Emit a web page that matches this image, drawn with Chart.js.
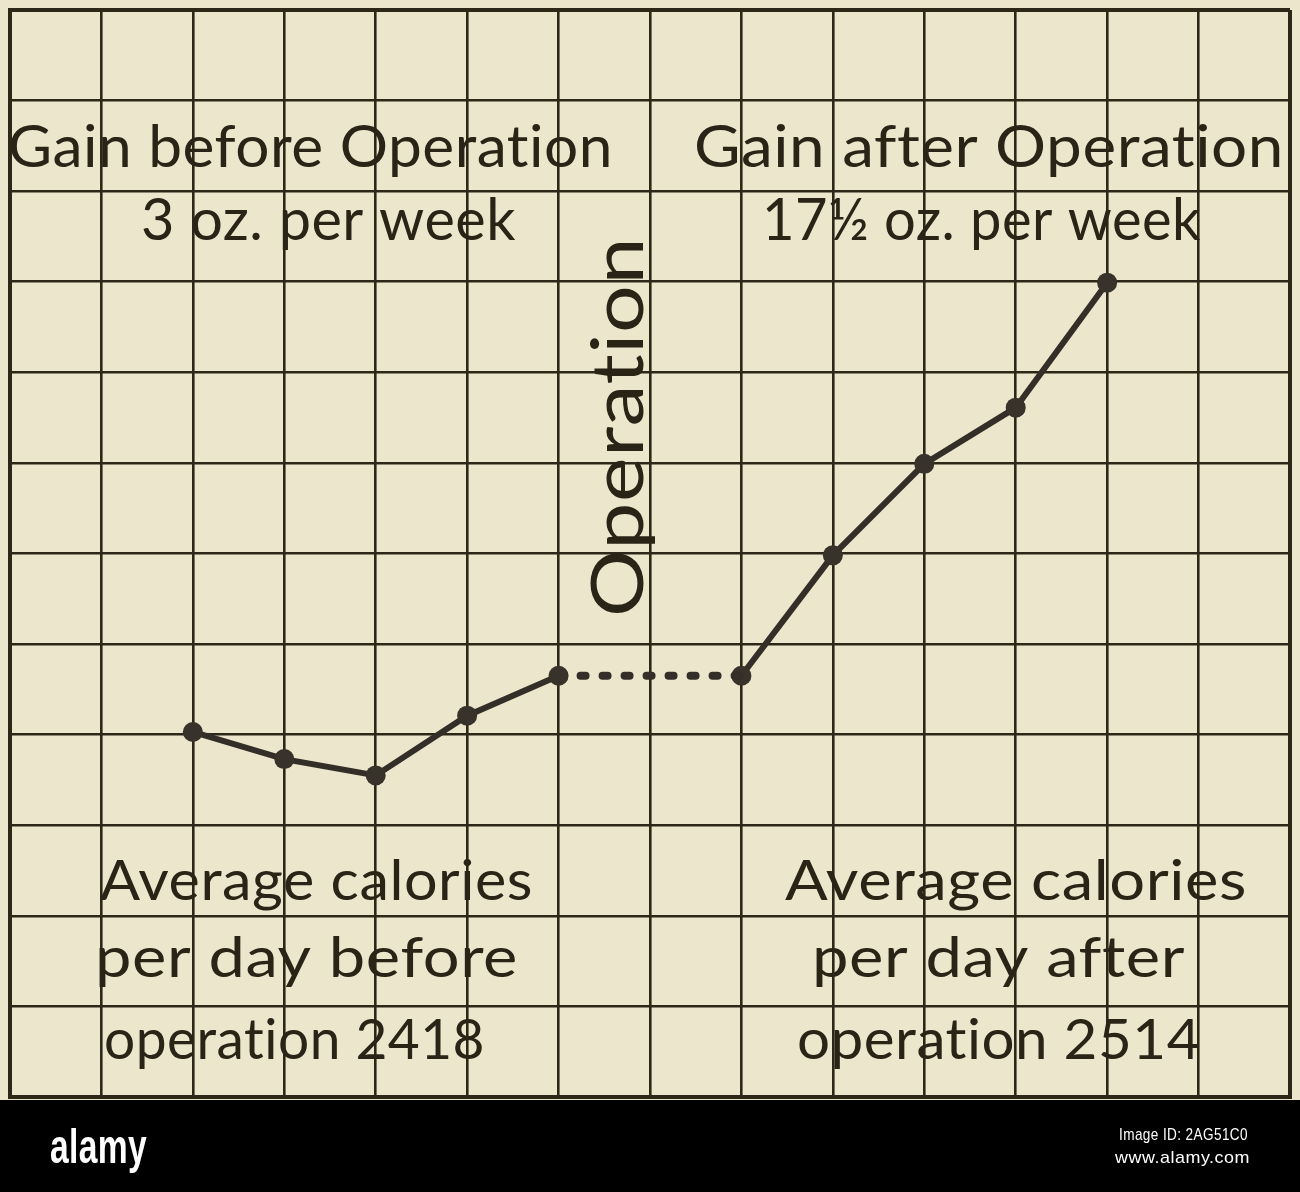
<!DOCTYPE html>
<html>
<head>
<meta charset="utf-8">
<script src="https://cdn.jsdelivr.net/npm/chart.js@4/dist/chart.umd.min.js"></script>
<style>
  html, body { margin: 0; padding: 0; background: #ece6cc; }
  #wrap { width: 1300px; height: 1192px; position: relative; }
  canvas { display: block; }
</style>
</head>
<body>
<div id="wrap"><canvas id="c" width="1300" height="1192"></canvas></div>
<script>
// ---- data (x = week line, y = weight in grid squares) ----
const weeksBefore = [2, 3, 4, 5, 6];
const gainBefore  = [4.03, 3.73, 3.55, 4.21, 4.65];
const weeksAfter  = [8, 9, 10, 11, 12];
const gainAfter   = [4.65, 5.98, 6.99, 7.61, 8.99];
const xRange = [0, 14];
const yRange = [0, 12];

// ---- texts ----
const titleBefore = ['Gain before Operation', '3 oz. per week'];
const titleAfter  = ['Gain after Operation', '17½ oz. per week'];
const operationLabel = 'Operation';
const caloriesBefore = ['Average calories', 'per day before', 'operation 2418'];
const caloriesAfter  = ['Average calories', 'per day after', 'operation 2514'];
const bannerTexts = ['alamy', 'Image ID: 2AG51C0', 'www.alamy.com'];

// ---- layout / styles (not data) ----
const PAPER = '#ece6cc';
const INK = '#2a2417';
const GRID = '#2d2718';
const LINE = '#332e27';
const FONT = 'Lato, "Open Sans", sans-serif';

const annotations = [
  {t: titleBefore[0], x0: 8,   x1: 613,  by: 167,  s: 58},
  {t: titleBefore[1], x0: 141, x1: 516,  by: 240,  s: 58},
  {t: titleAfter[0],  x0: 694, x1: 1284, by: 167,  s: 58},
  {t: titleAfter[1],  x0: 762, x1: 1201, by: 240,  s: 58},
  {t: caloriesBefore[0], x0: 100, x1: 533, by: 900,  s: 56},
  {t: caloriesBefore[1], x0: 95,  x1: 518, by: 977,  s: 56},
  {t: caloriesBefore[2], x0: 104, x1: 485, by: 1059, s: 56},
  {t: caloriesAfter[0],  x0: 785, x1: 1247, by: 900,  s: 56},
  {t: caloriesAfter[1],  x0: 812, x1: 1185, by: 977,  s: 56},
  {t: caloriesAfter[2],  x0: 797, x1: 1201, by: 1059, s: 56},
];
const vertical = {t: operationLabel, bx: 643, y0: 617, y1: 237, s: 72};

function setupFont(ctx, font, color) {
  ctx.font = font;
  ctx.fillStyle = color;
  ctx.textBaseline = 'alphabetic';
  ctx.textAlign = 'left';
  if ('letterSpacing' in ctx) ctx.letterSpacing = '0.5px'; // breaks "ti" ligatures
}

function fitText(ctx, text, x0, x1, by, font, color) {
  ctx.save();
  setupFont(ctx, font, color);
  const w = ctx.measureText(text).width;
  ctx.translate(x0, by);
  ctx.scale((x1 - x0) / w, 1);
  ctx.fillText(text, 0, 0);
  ctx.restore();
}

const paperPlugin = {
  id: 'paper',
  beforeDraw(chart) {
    const ctx = chart.ctx;
    ctx.save();
    ctx.fillStyle = PAPER;
    ctx.fillRect(0, 0, chart.width, 1100);
    ctx.restore();
  }
};

const textPlugin = {
  id: 'texts',
  afterDraw(chart) {
    const ctx = chart.ctx;
    annotations.forEach(a => fitText(ctx, a.t, a.x0, a.x1, a.by, `${a.s}px ${FONT}`, INK));
    // vertical "Operation"
    ctx.save();
    setupFont(ctx, `${vertical.s}px ${FONT}`, INK);
    const w = ctx.measureText(vertical.t).width;
    ctx.translate(vertical.bx, vertical.y0);
    ctx.rotate(-Math.PI / 2);
    ctx.scale((vertical.y0 - vertical.y1) / w, 1);
    ctx.fillText(vertical.t, 0, 0);
    ctx.restore();
    // bottom banner
    ctx.save();
    ctx.fillStyle = '#000';
    ctx.fillRect(0, 1100, chart.width, chart.height - 1100);
    ctx.restore();
    fitText(ctx, bannerTexts[0], 50, 147, 1163, 'bold 48px "Liberation Sans Narrow", "Liberation Sans", sans-serif', '#fff');
    fitText(ctx, bannerTexts[1], 1119, 1248, 1140, '17px "Liberation Sans Narrow", "Liberation Sans", sans-serif', '#fff');
    fitText(ctx, bannerTexts[2], 1115, 1250, 1163, '17px "Liberation Sans Narrow", "Liberation Sans", sans-serif', '#fff');
  }
};

const gridWidth = (c) => {
  const v = c.tick ? c.tick.value : null;
  const sc = c.scale;
  return (v === sc.min || v === sc.max) ? 4 : 2.6;
};

new Chart(document.getElementById('c'), {
  type: 'line',
  data: {
    datasets: [
      {
        label: 'Before operation',
        data: weeksBefore.map((w, i) => ({x: w, y: gainBefore[i]})),
        borderColor: LINE, borderWidth: 6,
        pointRadius: 10, pointBackgroundColor: '#37322a', pointBorderWidth: 0,
        tension: 0
      },
      {
        label: 'Operation',
        data: [
          {x: weeksBefore[weeksBefore.length - 1], y: gainBefore[gainBefore.length - 1]},
          {x: weeksAfter[0], y: gainAfter[0]}
        ],
        borderColor: LINE, borderWidth: 8, borderDash: [5, 17], borderCapStyle: 'round',
        pointRadius: 0, tension: 0
      },
      {
        label: 'After operation',
        data: weeksAfter.map((w, i) => ({x: w, y: gainAfter[i]})),
        borderColor: LINE, borderWidth: 6,
        pointRadius: 10, pointBackgroundColor: '#37322a', pointBorderWidth: 0,
        tension: 0
      }
    ]
  },
  options: {
    responsive: false,
    animation: false,
    layout: { padding: { left: 7, right: 7, top: 3, bottom: 95 } },
    plugins: { legend: { display: false }, tooltip: { enabled: false }, title: { display: false } },
    scales: {
      x: {
        type: 'linear', min: xRange[0], max: xRange[1],
        ticks: { display: false, stepSize: 1 },
        grid: { color: GRID, lineWidth: gridWidth, drawTicks: false },
        border: { display: true, color: GRID, width: 4 }
      },
      y: {
        type: 'linear', min: yRange[0], max: yRange[1],
        ticks: { display: false, stepSize: 1 },
        grid: { color: GRID, lineWidth: gridWidth, drawTicks: false },
        border: { display: true, color: GRID, width: 4 }
      }
    }
  },
  plugins: [paperPlugin, textPlugin]
});
</script>
</body>
</html>
